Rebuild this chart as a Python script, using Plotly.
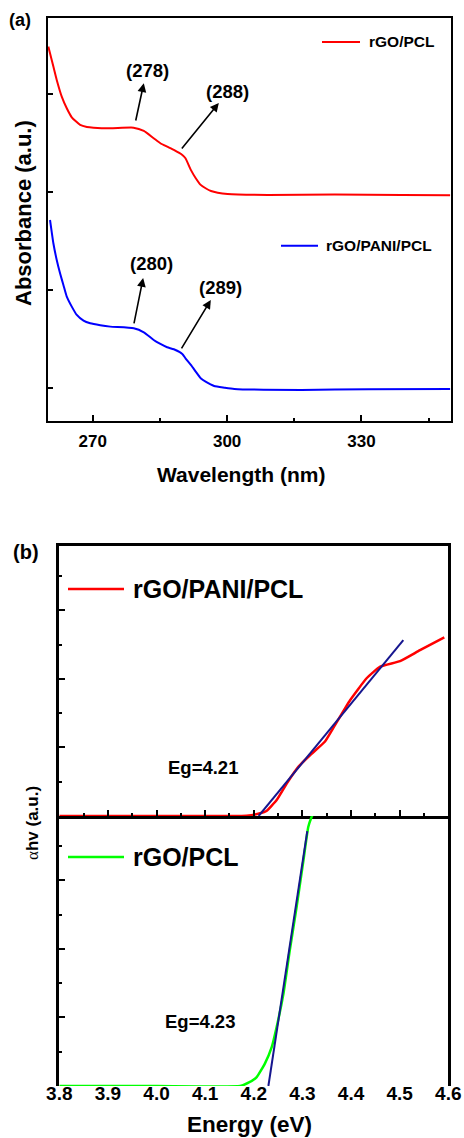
import plotly.graph_objects as go

# ---------------- data: UV-Vis absorbance ----------------
wl_pcl = [260.07, 260.45, 261.2, 261.95, 263.07, 264.19, 265.31, 267.18, 268.68, 270.17,
          273.9, 279.1, 281.4, 283.6, 285.1, 286.6, 288.1, 290.0, 290.7, 291.9,
          293.0, 294.1, 295.2, 296.4, 297.9, 300.1, 309.1, 324.0, 339.0, 349.8]
abs_pcl = [3.486, 3.418, 3.282, 3.146, 2.976, 2.857, 2.765, 2.687, 2.666, 2.659,
           2.653, 2.659, 2.626, 2.551, 2.500, 2.465, 2.432, 2.380, 2.347, 2.228,
           2.143, 2.075, 2.041, 2.013, 1.996, 1.983, 1.973, 1.976, 1.973, 1.969]

wl_pani = [260.45, 260.82, 261.2, 261.95, 262.69, 263.44, 264.19, 265.31, 266.43, 267.93,
           269.42, 271.67, 273.91, 279.15, 281.4, 283.6, 285.1, 286.6, 288.1, 290.0,
           290.7, 291.9, 293.0, 294.1, 295.2, 297.1, 299.4, 301.6, 316.6, 331.5, 349.8]
abs_pani = [1.717, 1.598, 1.480, 1.309, 1.173, 1.054, 0.935, 0.833, 0.748, 0.690,
            0.663, 0.643, 0.629, 0.612, 0.571, 0.493, 0.452, 0.418, 0.398, 0.350,
            0.306, 0.238, 0.169, 0.102, 0.067, 0.023, 0.006, -0.007, -0.017, -0.010, -0.007]

# peak labels: (text, tail x, tail y, head x, head y, label x, label y)
peaks = [
    ("(278)", 279.52, 2.717, 281.39, 3.112, 282.15, 3.238),
    ("(288)", 289.62, 2.432, 298.15, 2.911, 300.10, 3.023),
    ("(280)", 279.14, 0.646, 281.25, 1.126, 283.10, 1.268),
    ("(289)", 289.62, 0.391, 296.36, 0.901, 298.60, 1.024),
]

# ---------------- data: Tauc plots ----------------
e_pani = [3.80, 4.00, 4.15, 4.185, 4.213, 4.226, 4.247, 4.268, 4.292, 4.316, 4.346,
          4.363, 4.398, 4.432, 4.460, 4.5007, 4.5418, 4.5918]
ahv_pani = [0, 0, 0, 0.004, 0.04, 0.073, 0.233, 0.477, 0.72, 0.89, 1.083,
            1.28, 1.69, 2.01, 2.18, 2.26, 2.42, 2.605]

e_pcl = [3.80, 4.00, 4.172, 4.189, 4.206, 4.223, 4.237, 4.247, 4.261, 4.274,
         4.288, 4.302, 4.312, 4.319, 4.325]
ahv_pcl = [0, 0, 0, 0.048, 0.13, 0.33, 0.57, 0.86, 1.35, 1.98,
           2.61, 3.29, 3.78, 3.93, 4.02]

# linear fits: band gap (x-intercept), slope, end of fitted segment
eg_pani, slope_pani, end_pani = 4.21, 8.63, 4.5075
eg_pcl, slope_pcl, end_pcl = 4.23, 46.5, 4.310

W, H = 464, 1138
FONT = "Liberation Sans, Arial, Helvetica, sans-serif"


def fx(x):
    return x / W


def fy(y):
    return 1 - y / H


fig = go.Figure()

fig.add_trace(go.Scatter(x=wl_pcl, y=abs_pcl, mode="lines", name="rGO/PCL",
                         line=dict(color="#ff0000", width=2, shape="spline", smoothing=0.5),
                         xaxis="x", yaxis="y"))
fig.add_trace(go.Scatter(x=wl_pani, y=abs_pani, mode="lines", name="rGO/PANI/PCL",
                         line=dict(color="#0000ff", width=2, shape="spline", smoothing=0.5),
                         xaxis="x", yaxis="y"))

fig.add_trace(go.Scatter(x=e_pani, y=ahv_pani, mode="lines", name="rGO/PANI/PCL",
                         line=dict(color="#ff0000", width=2.5, shape="spline", smoothing=0.4),
                         xaxis="x2", yaxis="y2"))
fig.add_trace(go.Scatter(x=[eg_pani, end_pani],
                         y=[0, slope_pani * (end_pani - eg_pani)], mode="lines",
                         line=dict(color="#16168f", width=2), xaxis="x2", yaxis="y2"))

fig.add_trace(go.Scatter(x=e_pcl, y=ahv_pcl, mode="lines", name="rGO/PCL",
                         line=dict(color="#00ff00", width=2.5, shape="spline", smoothing=0.4),
                         xaxis="x3", yaxis="y3"))
fig.add_trace(go.Scatter(x=[eg_pcl, end_pcl],
                         y=[0, slope_pcl * (end_pcl - eg_pcl)], mode="lines",
                         line=dict(color="#16168f", width=2), xaxis="x3", yaxis="y3"))

axis_common = dict(showline=True, linecolor="black", mirror=True, ticks="inside",
                   tickcolor="black", showgrid=False, zeroline=False, automargin=False)
minor_x = dict(dtick=0.05, ticklen=3, tickwidth=2, ticks="inside", tickcolor="black")
minor_y = dict(dtick=0.5, ticklen=3, tickwidth=2, ticks="inside", tickcolor="black")

fig.update_layout(
    width=W, height=H,
    margin=dict(l=0, r=0, t=0, b=0, autoexpand=False),
    paper_bgcolor="white", plot_bgcolor="white",
    showlegend=False,
    font=dict(family=FONT, color="black"),
    xaxis=dict(**axis_common, linewidth=2, domain=[fx(48), fx(451)], range=[260, 350],
               tick0=270, dtick=30, ticklen=6, tickwidth=1.5, anchor="y",
               minor=dict(dtick=15, ticklen=3, tickwidth=1.5, ticks="inside", tickcolor="black"),
               tickfont=dict(size=17, family=FONT, weight="bold"), ticklabelstandoff=4),
    yaxis=dict(**axis_common, linewidth=2, domain=[fy(421), fy(18)], range=[-0.334, 3.778],
               tickvals=[0, 1, 2, 3], showticklabels=False, ticklen=5, tickwidth=1.5,
               anchor="x"),
    xaxis2=dict(**axis_common, linewidth=2.5, domain=[fx(59.3), fx(448.3)], range=[3.8, 4.6],
                tick0=3.8, dtick=0.1, ticklen=6, tickwidth=2, anchor="y2",
                showticklabels=False, minor=minor_x),
    yaxis2=dict(**axis_common, linewidth=2.5, domain=[fy(816), fy(546)], range=[0, 3.94],
                tick0=0, dtick=1, ticklen=6, tickwidth=2, showticklabels=False, anchor="x2",
                minor=minor_y),
    yaxis3=dict(**axis_common, linewidth=2.5, domain=[fy(1086), fy(816)], range=[0, 3.94],
                tick0=0, dtick=1, ticklen=6, tickwidth=2, showticklabels=False, anchor="x3",
                minor=minor_y),
    # energy axis of the lower panel: tick labels only, set a little closer to the frame
    xaxis3=dict(showline=False, showgrid=False, zeroline=False, automargin=False,
                domain=[fx(59.3), fx(448.3)], range=[3.8, 4.6], tick0=3.8, dtick=0.1,
                ticks="", anchor="free", position=fy(1080),
                tickfont=dict(size=19, family=FONT, weight="bold"), tickformat=".1f"),
    # frame line and tick marks of the lower panel (its top edge is the shared divider)
    xaxis4=dict(showline=True, linecolor="black", mirror=False, ticks="inside",
                tickcolor="black", showgrid=False, zeroline=False, automargin=False,
                linewidth=2.5, domain=[fx(59.3), fx(448.3)], range=[3.8, 4.6],
                tick0=3.8, dtick=0.1, ticklen=6, tickwidth=2, anchor="y3",
                overlaying="x3", showticklabels=False, minor=minor_x),
)

ann = []


def paper_text(text, x, y, size, xanchor="center", angle=0, yanchor="middle"):
    ann.append(dict(text=text, x=fx(x), y=fy(y), xref="paper", yref="paper",
                    xanchor=xanchor, yanchor=yanchor, showarrow=False, textangle=angle,
                    font=dict(size=size, family=FONT, color="black", weight="bold")))


# panel letters and axis titles
paper_text("(a)", 20, 20, 18)
paper_text("Absorbance (a.u.)", 23, 213, 22, angle=-90)
paper_text("Wavelength (nm)", 241, 474, 21)
paper_text("(b)", 26, 552, 20)
paper_text("Energy (eV)", 249, 1139, 22.5, yanchor="bottom")
ann.append(dict(text="<span style=\"font-family:'Liberation Serif';font-weight:normal\">&#945;</span>hv (a.u.)",
                x=fx(32), y=fy(823), xref="paper", yref="paper", xanchor="center",
                yanchor="middle", showarrow=False, textangle=-90,
                font=dict(size=17, family=FONT, color="black", weight="bold")))

# band-gap labels
paper_text(f"Eg={eg_pani:.2f}", 203, 767, 18.5)
paper_text(f"Eg={eg_pcl:.2f}", 200, 1021, 18.5)

# legends drawn as line samples with text
legend_items = [
    ("rGO/PCL", "#ff0000", 322, 360, 42, 367, 15.5, 2),
    ("rGO/PANI/PCL", "#0000ff", 281, 318, 245.7, 324, 15.5, 2),
    ("rGO/PANI/PCL", "#ff0000", 68, 124, 589, 131, 25, 2.5),
    ("rGO/PCL", "#00ff00", 68, 124, 857, 131, 25, 2.5),
]
shapes = []
for label, color, x0, x1, yy, xt, size, lw in legend_items:
    shapes.append(dict(type="line", xref="paper", yref="paper", x0=fx(x0), x1=fx(x1),
                       y0=fy(yy), y1=fy(yy), line=dict(color=color, width=lw)))
    paper_text(label, xt, yy, size, xanchor="left")

# peak arrows and labels
for text, tx, ty, hx, hy, lx, ly in peaks:
    ann.append(dict(x=hx, y=hy, ax=tx, ay=ty, xref="x", yref="y", axref="x", ayref="y",
                    text="", showarrow=True, arrowhead=2, arrowsize=1.1, arrowwidth=1.6,
                    arrowcolor="black", standoff=0))
    ann.append(dict(x=lx, y=ly, xref="x", yref="y", text=text, showarrow=False,
                    xanchor="center", yanchor="middle",
                    font=dict(size=18.5, family=FONT, color="black", weight="bold")))

fig.update_layout(annotations=ann, shapes=shapes)

fig.write_html("out.html")
